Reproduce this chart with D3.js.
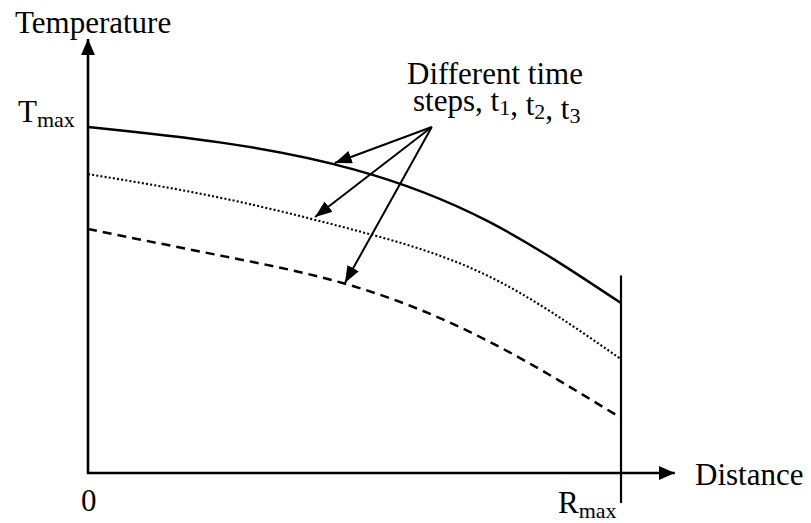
<!DOCTYPE html>
<html>
<head>
<meta charset="utf-8">
<script src="https://cdn.jsdelivr.net/npm/d3@7"></script>
<style>
    body { margin: 0; background: #fff; }
    text { font-family: "Liberation Serif", "Times New Roman", serif; fill: #000; }
</style>
</head>
<body>
<script>
// Distance as a fraction of R_max, temperature as a fraction of T_max
const distance = [0, 0.25, 0.5, 0.75, 1.0];
const tempStep1 = [1.0, 0.955, 0.877, 0.728, 0.491];
const tempStep2 = [0.864, 0.795, 0.702, 0.570, 0.329];
const tempStep3 = [0.705, 0.628, 0.539, 0.382, 0.159];

// where the annotation arrows start and where they point on each curve
const arrowFrom = [0.645, 1.0];
const arrowTo = [[0.463, 0.896], [0.426, 0.740], [0.482, 0.549]];

const width = 811, height = 523;

// pixel positions of 0 / R_max and 0 / T_max
const x = d3.scaleLinear().domain([0, 1]).range([88, 621]);
const y = d3.scaleLinear().domain([0, 1]).range([473, 127]);

const xAxisEnd = 1.101;   // arrow tip of the distance axis
const yAxisEnd = 1.254;   // arrow tip of the temperature axis

const svg = d3.select("body").append("svg")
    .attr("width", width)
    .attr("height", height);

// arrow heads
const defs = svg.append("defs");
function addMarker(id, len, wid) {
    defs.append("marker")
        .attr("id", id)
        .attr("viewBox", `0 0 ${len} ${wid}`)
        .attr("refX", len)
        .attr("refY", wid / 2)
        .attr("markerWidth", len)
        .attr("markerHeight", wid)
        .attr("markerUnits", "userSpaceOnUse")
        .attr("orient", "auto")
        .append("path")
        .attr("d", `M0,0 L${len},${wid / 2} L0,${wid} Z`)
        .attr("fill", "#000");
}
addMarker("axisHead", 16, 14);
addMarker("noteHead", 17, 13);

// ****************** axes ***************************
svg.append("line")
    .attr("x1", x(0)).attr("y1", y(0) + 1)
    .attr("x2", x(0)).attr("y2", y(yAxisEnd))
    .attr("stroke", "#000").attr("stroke-width", 2.6)
    .attr("marker-end", "url(#axisHead)");

svg.append("line")
    .attr("x1", x(0) - 1).attr("y1", y(0))
    .attr("x2", x(xAxisEnd)).attr("y2", y(0))
    .attr("stroke", "#000").attr("stroke-width", 2.6)
    .attr("marker-end", "url(#axisHead)");

// boundary at R_max
svg.append("line")
    .attr("x1", x(1)).attr("y1", y(0.571))
    .attr("x2", x(1)).attr("y2", y(-0.087))
    .attr("stroke", "#000").attr("stroke-width", 2.2);

// ****************** curves ***************************
const line = d3.line()
    .x(d => x(d[0]))
    .y(d => y(d[1]))
    .curve(d3.curveNatural);

const series = [
    {values: tempStep1, dash: null, w: 2.4},
    {values: tempStep2, dash: "2,2.2", w: 2.1},
    {values: tempStep3, dash: "9,6", w: 2.5}
];

svg.selectAll("path.curve")
    .data(series)
    .enter().append("path")
    .attr("class", "curve")
    .attr("fill", "none")
    .attr("stroke", "#000")
    .attr("stroke-width", d => d.w)
    .attr("stroke-dasharray", d => d.dash)
    .attr("d", d => line(distance.map((v, i) => [v, d.values[i]])));

// ****************** annotation ***************************
svg.selectAll("line.note")
    .data(arrowTo)
    .enter().append("line")
    .attr("class", "note")
    .attr("x1", x(arrowFrom[0])).attr("y1", y(arrowFrom[1]))
    .attr("x2", d => x(d[0])).attr("y2", d => y(d[1]))
    .attr("stroke", "#000").attr("stroke-width", 2)
    .attr("marker-end", "url(#noteHead)");

const fontSize = 31, subSize = 22;

function label(px, py, main, sub) {
    const t = svg.append("text")
        .attr("x", px).attr("y", py)
        .style("font-size", fontSize + "px");
    t.append("tspan").text(main);
    if (sub) {
        t.append("tspan")
            .attr("dy", 5)
            .style("font-size", subSize + "px")
            .text(sub);
    }
    return t;
}

label(15, 33, "Temperature");
label(18, 122, "T", "max");
label(x(0) - 7, 511, "0");
label(558, 513, "R", "max");
label(695, 485, "Distance");

label(407, 84, "Different time");

const steps = svg.append("text")
    .attr("x", 413).attr("y", 111)
    .style("font-size", fontSize + "px");
[["steps, t", "1"], [", t", "2"], [", t", "3"]].forEach(function (p) {
    steps.append("tspan").attr("dy", 0).text(p[0]);
    steps.append("tspan").attr("dy", 4).style("font-size", subSize + "px").text(p[1]);
    steps.append("tspan").attr("dy", -4).text("");
});
</script>
</body>
</html>
